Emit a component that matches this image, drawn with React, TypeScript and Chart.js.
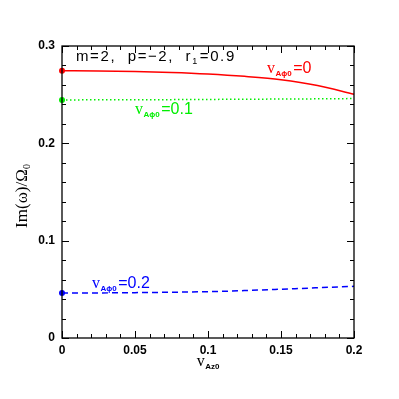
import React, { useEffect, useRef } from "react";
import { Chart, registerables } from "chart.js";

Chart.register(...registerables);

const xValues = [0, 0.025, 0.05, 0.075, 0.1, 0.125, 0.15, 0.175, 0.2];
const redValues = [0.2745, 0.2743, 0.2738, 0.2728, 0.2712, 0.2688, 0.2654, 0.2595, 0.2505];
const greenValues = [0.2446, 0.2447, 0.2448, 0.2449, 0.2451, 0.2453, 0.2455, 0.2457, 0.246];
const blueValues = [0.0462, 0.0463, 0.0466, 0.047, 0.0476, 0.0487, 0.0501, 0.0516, 0.0531];

const seriesNames = ["0", "0.1", "0.2"];
const seriesColors = ["#ff0000", "#00ee00", "#0000ff"];

type Seg = { t: string; font: string; dy?: number; gap?: number };

const SERIF = "Liberation Serif";
const SANS = "Liberation Sans";

function drawRich(ctx: CanvasRenderingContext2D, x: number, y: number, segs: Seg[], color: string, center = false) {
  ctx.save();
  ctx.fillStyle = color;
  ctx.textBaseline = "alphabetic";
  ctx.textAlign = "left";
  let total = 0;
  for (const s of segs) {
    ctx.font = s.font;
    total += ctx.measureText(s.t).width + (s.gap || 0);
  }
  let cx = center ? x - total / 2 : x;
  for (const s of segs) {
    ctx.font = s.font;
    ctx.fillText(s.t, cx, y + (s.dy || 0));
    cx += ctx.measureText(s.t).width + (s.gap || 0);
  }
  ctx.restore();
}

const vLabel = (val: string): Seg[] => [
  { t: "v", font: `16px ${SERIF}`, gap: 0.5 },
  { t: "A\u03d50", font: `bold 8px ${SANS}`, dy: 3, gap: 1.5 },
  { t: "=" + val, font: `16px ${SANS}` },
];

const framePlugin = {
  id: "frame",
  afterDraw(chart: any) {
    const { ctx, chartArea: a, scales } = chart;
    const xs = scales.x;
    const ys = scales.y;
    ctx.save();
    ctx.strokeStyle = "#000";
    ctx.lineWidth = 1.3;
    ctx.strokeRect(a.left, a.top, a.right - a.left, a.bottom - a.top);
    ctx.lineWidth = 1;
    ctx.beginPath();
    for (let i = 0; i <= 20; i++) {
      const v = i * 0.01;
      const px = Math.round(xs.getPixelForValue(v)) + 0.5;
      const len = i % 5 === 0 ? 7 : 4;
      ctx.moveTo(px, a.bottom);
      ctx.lineTo(px, a.bottom - len);
      ctx.moveTo(px, a.top);
      ctx.lineTo(px, a.top + len);
    }
    for (let i = 0; i <= 15; i++) {
      const v = i * 0.02;
      const py = Math.round(ys.getPixelForValue(v)) + 0.5;
      const len = i % 5 === 0 ? 7 : 4;
      ctx.moveTo(a.left, py);
      ctx.lineTo(a.left + len, py);
      ctx.moveTo(a.right, py);
      ctx.lineTo(a.right - len, py);
    }
    ctx.stroke();
    ctx.restore();

    // annotation
    ctx.save();
    (ctx as any).letterSpacing = "1.6px";
    drawRich(ctx, 76, 61, [
      { t: "m=2,  p=\u22122,  r", font: `15px ${SANS}` },
      { t: "1", font: `9px ${SANS}`, dy: 3, gap: 1 },
      { t: "=0.9", font: `15px ${SANS}` },
    ], "#000");
    ctx.restore();

    drawRich(ctx, 267, 73, vLabel(seriesNames[0]), seriesColors[0]);
    drawRich(ctx, 135, 114, vLabel(seriesNames[1]), seriesColors[1]);
    drawRich(ctx, 92, 288, vLabel(seriesNames[2]), seriesColors[2]);

    // x title
    drawRich(ctx, 208, 366, [
      { t: "v", font: `16px ${SERIF}`, gap: 0.5 },
      { t: "Az0", font: `bold 8px ${SANS}`, dy: 3 },
    ], "#000", true);

    // y title
    ctx.save();
    ctx.translate(27, 196);
    ctx.rotate(-Math.PI / 2);
    drawRich(ctx, 0, 0, [
      { t: "Im(\u03c9)/\u03a9", font: `17px ${SERIF}` },
      { t: "0", font: `10px ${SERIF}`, dy: 3 },
    ], "#000", true);
    ctx.restore();
  },
};

export default function App() {
  const ref = useRef<HTMLCanvasElement | null>(null);
  useEffect(() => {
    if (!ref.current) return;
    const mk = (vals: number[]) => xValues.map((x, i) => ({ x, y: vals[i] }));
    const common = {
      borderWidth: 1.5,
      cubicInterpolationMode: "monotone",
      pointRadius: (c: any) => (c.dataIndex === 0 ? 3 : 0),
      pointBorderWidth: 0,
      clip: false,
    };
    const chart = new Chart(ref.current, {
      type: "line",
      data: {
        datasets: [
          {
            ...common,
            label: seriesNames[0],
            data: mk(redValues),
            borderColor: seriesColors[0],
            backgroundColor: seriesColors[0],
          },
          {
            ...common,
            label: seriesNames[1],
            data: mk(greenValues),
            borderColor: seriesColors[1],
            backgroundColor: seriesColors[1],
            borderDash: [1.5, 2.5],
          },
          {
            ...common,
            label: seriesNames[2],
            data: mk(blueValues),
            borderColor: seriesColors[2],
            backgroundColor: seriesColors[2],
            borderDash: [6, 4],
          },
        ],
      },
      options: {
        animation: false,
        responsive: true,
        maintainAspectRatio: false,
        layout: { padding: { left: 0, right: 45, top: 46, bottom: 0 } },
        plugins: { legend: { display: false }, tooltip: { enabled: false } },
        scales: {
          x: {
            type: "linear",
            min: 0,
            max: 0.2,
            grid: { display: false, drawTicks: false },
            border: { display: false },
            afterFit: (s: any) => { s.height = 61; },
            ticks: {
              stepSize: 0.05,
              autoSkip: false,
              maxRotation: 0,
              padding: 5,
              color: "#000",
              font: { family: SANS, size: 12, weight: "bold" },
              callback: (v: any) => (v === 0 ? "0" : String(+Number(v).toFixed(2))),
            },
          },
          y: {
            type: "linear",
            min: 0,
            max: 0.3,
            grid: { display: false, drawTicks: false },
            border: { display: false },
            afterFit: (s: any) => { s.width = 62; },
            ticks: {
              stepSize: 0.1,
              padding: 7,
              color: "#000",
              font: { family: SANS, size: 12, weight: "bold" },
              callback: (v: any) => (v === 0 ? "0" : Number(v).toFixed(1)),
            },
          },
        },
      },
      plugins: [framePlugin],
    } as any);
    return () => chart.destroy();
  }, []);
  return (
    <div style={{ position: "fixed", left: 0, top: 0, width: 399, height: 399, background: "#fff" }}>
      <canvas ref={ref} />
    </div>
  );
}
